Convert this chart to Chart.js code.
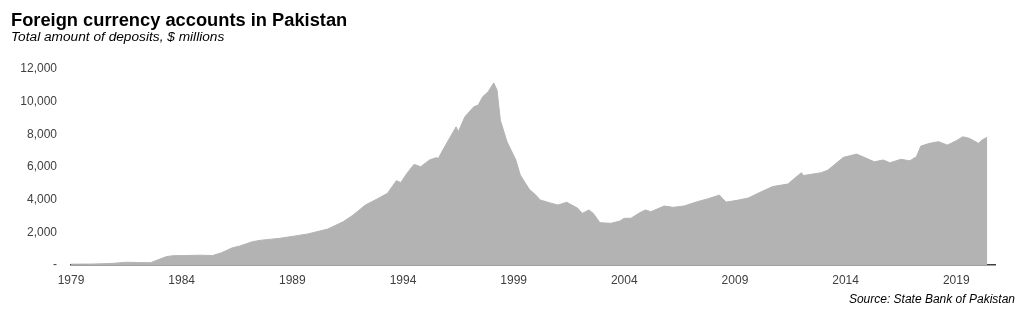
<!DOCTYPE html>
<html lang="en">
<head>
    <meta charset="UTF-8">
    <title>Foreign currency accounts in Pakistan</title>
    <script src="https://cdn.jsdelivr.net/npm/chart.js"></script>
    <style>
        body { margin: 0; background: #fff; font-family: "Liberation Sans", Arial, sans-serif; }
        .wrap { position: relative; width: 1024px; height: 316px; }
        .title { position: absolute; left: 11px; top: 11px; font-size: 18.3px; line-height: 18px; font-weight: bold; color: #000; }
        .subtitle { position: absolute; left: 11px; top: 30px; font-size: 13.7px; line-height: 14px; font-style: italic; color: #000; }
        .source { position: absolute; right: 9px; top: 293px; font-size: 12px; line-height: 12px; font-style: italic; color: #000; }
        #chart { position: absolute; left: 0; top: 0; }
    </style>
</head>
<body>
    <div class="wrap">
        <canvas id="chart" width="1024" height="316"></canvas>
        <div class="title">Foreign currency accounts in Pakistan</div>
        <div class="subtitle">Total amount of deposits, $ millions</div>
        <div class="source">Source: State Bank of Pakistan</div>
    </div>

<script>
    // values (year as decimal, deposits in $ millions)
    const years = [
        1979.0, 1980.0, 1980.8, 1981.5, 1982.0, 1982.6, 1982.9, 1983.3, 1983.6, 1984.2,
        1984.8, 1985.4, 1985.8, 1986.3, 1986.6, 1987.2, 1987.6, 1988.4, 1989.0, 1989.7,
        1990.6, 1991.3, 1991.75, 1992.3, 1992.8, 1993.3, 1993.7, 1993.9, 1994.2, 1994.5,
        1994.8, 1995.2, 1995.5, 1995.6, 1995.8, 1996.1, 1996.4, 1996.5, 1996.8, 1997.2,
        1997.4, 1997.6, 1997.85, 1998.1, 1998.25, 1998.4, 1998.7, 1999.1, 1999.3, 1999.7,
        2000.0, 2000.2, 2000.7, 2001.0, 2001.4, 2001.9, 2002.1, 2002.4, 2002.6, 2002.9,
        2003.4, 2003.8, 2004.0, 2004.3, 2004.7, 2004.95, 2005.2, 2005.8, 2006.2, 2006.7,
        2007.3, 2007.75, 2008.3, 2008.5, 2008.6, 2009.1, 2009.6, 2010.1, 2010.7, 2011.4,
        2011.6, 2012.0, 2012.1, 2012.9, 2013.2, 2013.9, 2014.5, 2015.3, 2015.7, 2016.0,
        2016.5, 2016.9, 2017.2, 2017.4, 2017.8, 2018.2, 2018.6, 2019.0, 2019.3, 2019.6,
        2020.0, 2020.2, 2020.4
    ];
    const deposits = [
        50, 60, 90, 170, 150, 140, 300, 510, 570, 580,
        600, 580, 750, 1060, 1150, 1430, 1520, 1630, 1750, 1900,
        2200, 2650, 3060, 3670, 4020, 4390, 5160, 5050, 5650, 6160,
        6020, 6430, 6570, 6530, 7040, 7750, 8460, 8160, 9080, 9690,
        9790, 10300, 10610, 11150, 10710, 8870, 7550, 6430, 5510, 4650,
        4280, 3980, 3780, 3670, 3840, 3470, 3160, 3370, 3160, 2590,
        2550, 2690, 2860, 2860, 3200, 3370, 3260, 3610, 3530, 3610,
        3880, 4040, 4280, 3980, 3850, 3960, 4100, 4430, 4800, 4960,
        5200, 5650, 5480, 5650, 5810, 6590, 6790, 6320, 6430, 6260,
        6470, 6380, 6630, 7280, 7450, 7550, 7340, 7610, 7850, 7750,
        7450, 7690, 7810
    ];
    const xTicks = [1979, 1984, 1989, 1994, 1999, 2004, 2009, 2014, 2019];
    const yTicks = [0, 2000, 4000, 6000, 8000, 10000, 12000];

    const points = years.map((y, i) => ({ x: y, y: deposits[i] }));
    const tickFont = { family: '"Liberation Sans", Arial, sans-serif', size: 12 };

    const config = {
        type: 'line',
        data: {
            datasets: [{
                data: points,
                fill: 'origin',
                backgroundColor: '#b3b3b3',
                borderColor: '#b3b3b3',
                borderWidth: 1,
                pointRadius: 0,
                tension: 0
            }]
        },
        options: {
            responsive: false,
            animation: false,
            layout: { padding: { top: 69, right: 29, left: 0, bottom: 0 } },
            scales: {
                x: {
                    type: 'linear',
                    min: 1979,
                    max: 2020.75,
                    grid: { display: false, drawTicks: false },
                    border: { display: true, color: '#404040', width: 1.5 },
                    afterBuildTicks: (scale) => { scale.ticks = xTicks.map(v => ({ value: v })); },
                    afterFit: (scale) => { scale.height = 51; },
                    ticks: {
                        color: '#404040',
                        font: tickFont,
                        padding: 8,
                        maxRotation: 0,
                        autoSkip: false,
                        callback: (v) => String(v)
                    }
                },
                y: {
                    min: 0,
                    max: 12000,
                    grid: { display: false, drawTicks: false },
                    border: { display: false },
                    afterBuildTicks: (scale) => { scale.ticks = yTicks.map(v => ({ value: v })); },
                    afterFit: (scale) => { scale.width = 71; },
                    ticks: {
                        color: '#404040',
                        font: tickFont,
                        padding: 14,
                        callback: (v) => v === 0 ? '-' : v.toLocaleString('en-US')
                    }
                }
            },
            plugins: {
                legend: { display: false },
                tooltip: { enabled: false }
            }
        }
    };

    new Chart(document.getElementById('chart').getContext('2d'), config);
</script>
</body>
</html>
